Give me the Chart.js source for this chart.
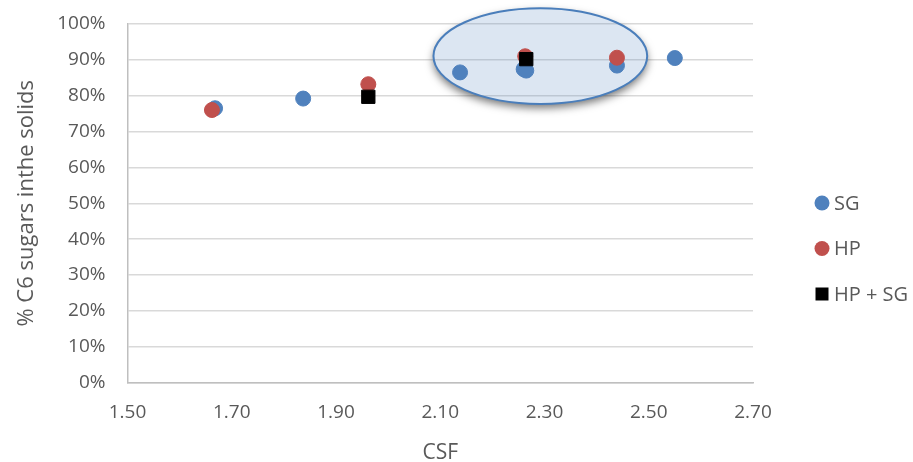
<!DOCTYPE html>
<html>
<head>
<meta charset="utf-8">
<script src="https://cdn.jsdelivr.net/npm/chart.js@4.4.1/dist/chart.umd.min.js"></script>
<style>
  body { margin: 0; background: #ffffff; }
  #chart { display: block; }
</style>
</head>
<body>
<canvas id="chart" width="913" height="462"></canvas>
<script>
// ---- data ----
const sgX = [1.668, 1.837, 2.138, 2.260, 2.265, 2.439, 2.550];
const sgY = [76.5, 79.2, 86.5, 87.4, 87.0, 88.4, 90.5];

const hpX = [1.662, 1.962, 2.263, 2.439];
const hpY = [76.0, 83.2, 91.0, 90.6];

const hpsgX = [1.962, 2.265];
const hpsgY = [79.7, 90.2];

const seriesNames = ['SG', 'HP', 'HP + SG'];
const xTicks = [1.5, 1.7, 1.9, 2.1, 2.3, 2.5, 2.7];
const yTicks = [0, 10, 20, 30, 40, 50, 60, 70, 80, 90, 100];

// highlight ellipse around the high-CSF points (data units)
const highlight = { xMin: 2.087, xMax: 2.497, yMin: 77.7, yMax: 104.4 };

const FONT = "'Open Sans', 'Liberation Sans', sans-serif";
const TEXT = '#595959';

function toPoints(xs, ys) {
    return xs.map((x, i) => ({ x: x, y: ys[i] }));
}

// Ellipse drawn behind the points
const ellipsePlugin = {
    id: 'ellipse',
    beforeDatasetsDraw(chart) {
        const { ctx, scales } = chart;
        const x1 = scales.x.getPixelForValue(highlight.xMin);
        const x2 = scales.x.getPixelForValue(highlight.xMax);
        const y1 = scales.y.getPixelForValue(highlight.yMax);
        const y2 = scales.y.getPixelForValue(highlight.yMin);
        const cx = (x1 + x2) / 2, cy = (y1 + y2) / 2;
        const rx = (x2 - x1) / 2, ry = (y2 - y1) / 2;

        // outer shadow only: clip away the inside of the ellipse
        ctx.save();
        ctx.beginPath();
        ctx.rect(0, 0, chart.width, chart.height);
        ctx.ellipse(cx, cy, rx, ry, 0, 0, Math.PI * 2);
        ctx.clip('evenodd');
        ctx.beginPath();
        ctx.ellipse(cx, cy, rx, ry, 0, 0, Math.PI * 2);
        ctx.shadowColor = 'rgba(0, 0, 0, 0.55)';
        ctx.shadowBlur = 8;
        ctx.shadowOffsetY = 4;
        ctx.fillStyle = '#ffffff';
        ctx.fill();
        ctx.restore();

        ctx.save();
        ctx.beginPath();
        ctx.ellipse(cx, cy, rx, ry, 0, 0, Math.PI * 2);
        ctx.fillStyle = 'rgba(79, 129, 189, 0.2)';
        ctx.fill();
        ctx.lineWidth = 2;
        ctx.strokeStyle = '#4a7ebb';
        ctx.stroke();
        ctx.restore();
    }
};

// Legend on the right, Excel style
const sideLegend = {
    id: 'sideLegend',
    afterDraw(chart) {
        const { ctx, chartArea } = chart;
        const mx = chartArea.right + 69;
        const top = 203;
        const step = 45.5;
        ctx.save();
        ctx.font = '20px ' + FONT;
        ctx.textBaseline = 'middle';
        chart.data.datasets.forEach((ds, i) => {
            const y = top + i * step;
            ctx.fillStyle = ds.backgroundColor;
            ctx.beginPath();
            if (ds.pointStyle === 'rect') {
                ctx.rect(mx - 6.5, y - 6.5, 13, 13);
            } else {
                ctx.arc(mx, y, 7.5, 0, Math.PI * 2);
            }
            ctx.fill();
            ctx.fillStyle = TEXT;
            ctx.fillText(ds.label, mx + 12, y + 1);
        });
        ctx.restore();
    }
};

const ctx = document.getElementById('chart').getContext('2d');
new Chart(ctx, {
    type: 'scatter',
    data: {
        datasets: [{
            label: seriesNames[0],
            data: toPoints(sgX, sgY),
            backgroundColor: '#4f81bd',
            borderColor: '#4f81bd',
            pointRadius: 7.5,
            pointHoverRadius: 7.5,
            order: 2
        }, {
            label: seriesNames[1],
            data: toPoints(hpX, hpY),
            backgroundColor: '#c0504d',
            borderColor: '#c0504d',
            pointRadius: 7.5,
            pointHoverRadius: 7.5,
            order: 1
        }, {
            label: seriesNames[2],
            data: toPoints(hpsgX, hpsgY),
            backgroundColor: '#000000',
            borderColor: '#000000',
            pointStyle: 'rect',
            pointRadius: 9.4,
            pointHoverRadius: 9.4,
            order: 0
        }]
    },
    options: {
        responsive: false,
        animation: false,
        layout: {
            padding: { left: 0, right: 160, top: 24, bottom: 0 }
        },
        plugins: {
            legend: { display: false },
            tooltip: { enabled: false }
        },
        scales: {
            x: {
                type: 'linear',
                min: xTicks[0],
                max: xTicks[xTicks.length - 1],
                afterBuildTicks: scale => {
                    scale.ticks = xTicks.map(v => ({ value: v }));
                },
                afterFit: scale => {
                    scale.height = 79.5;
                    scale.paddingLeft = 0;
                    scale.paddingRight = 0;
                },
                grid: { display: false, drawTicks: false },
                border: { display: true, color: '#bfbfbf', width: 1.5 },
                ticks: {
                    color: TEXT,
                    font: { family: FONT, size: 19 },
                    padding: 19,
                    maxRotation: 0,
                    callback: v => v.toFixed(2)
                },
                title: {
                    display: true,
                    text: 'CSF',
                    color: TEXT,
                    font: { family: FONT, size: 21 },
                    padding: { top: 0, bottom: -4 }
                }
            },
            y: {
                type: 'linear',
                min: yTicks[0],
                max: yTicks[yTicks.length - 1],
                afterBuildTicks: scale => {
                    scale.ticks = yTicks.map(v => ({ value: v }));
                },
                afterFit: scale => {
                    scale.width = 127.5;
                    scale.paddingTop = 0;
                    scale.paddingBottom = 0;
                },
                grid: { color: '#d9d9d9', lineWidth: 1.5, drawTicks: false },
                border: { display: true, color: '#bfbfbf', width: 1.5 },
                ticks: {
                    color: TEXT,
                    font: { family: FONT, size: 19 },
                    padding: 22,
                    callback: v => v + '%'
                },
                title: {
                    display: true,
                    text: '% C6 sugars inthe solids',
                    color: TEXT,
                    font: { family: FONT, size: 22 },
                    padding: { top: 14, bottom: 0 }
                }
            }
        }
    },
    plugins: [ellipsePlugin, sideLegend]
});
</script>
</body>
</html>
